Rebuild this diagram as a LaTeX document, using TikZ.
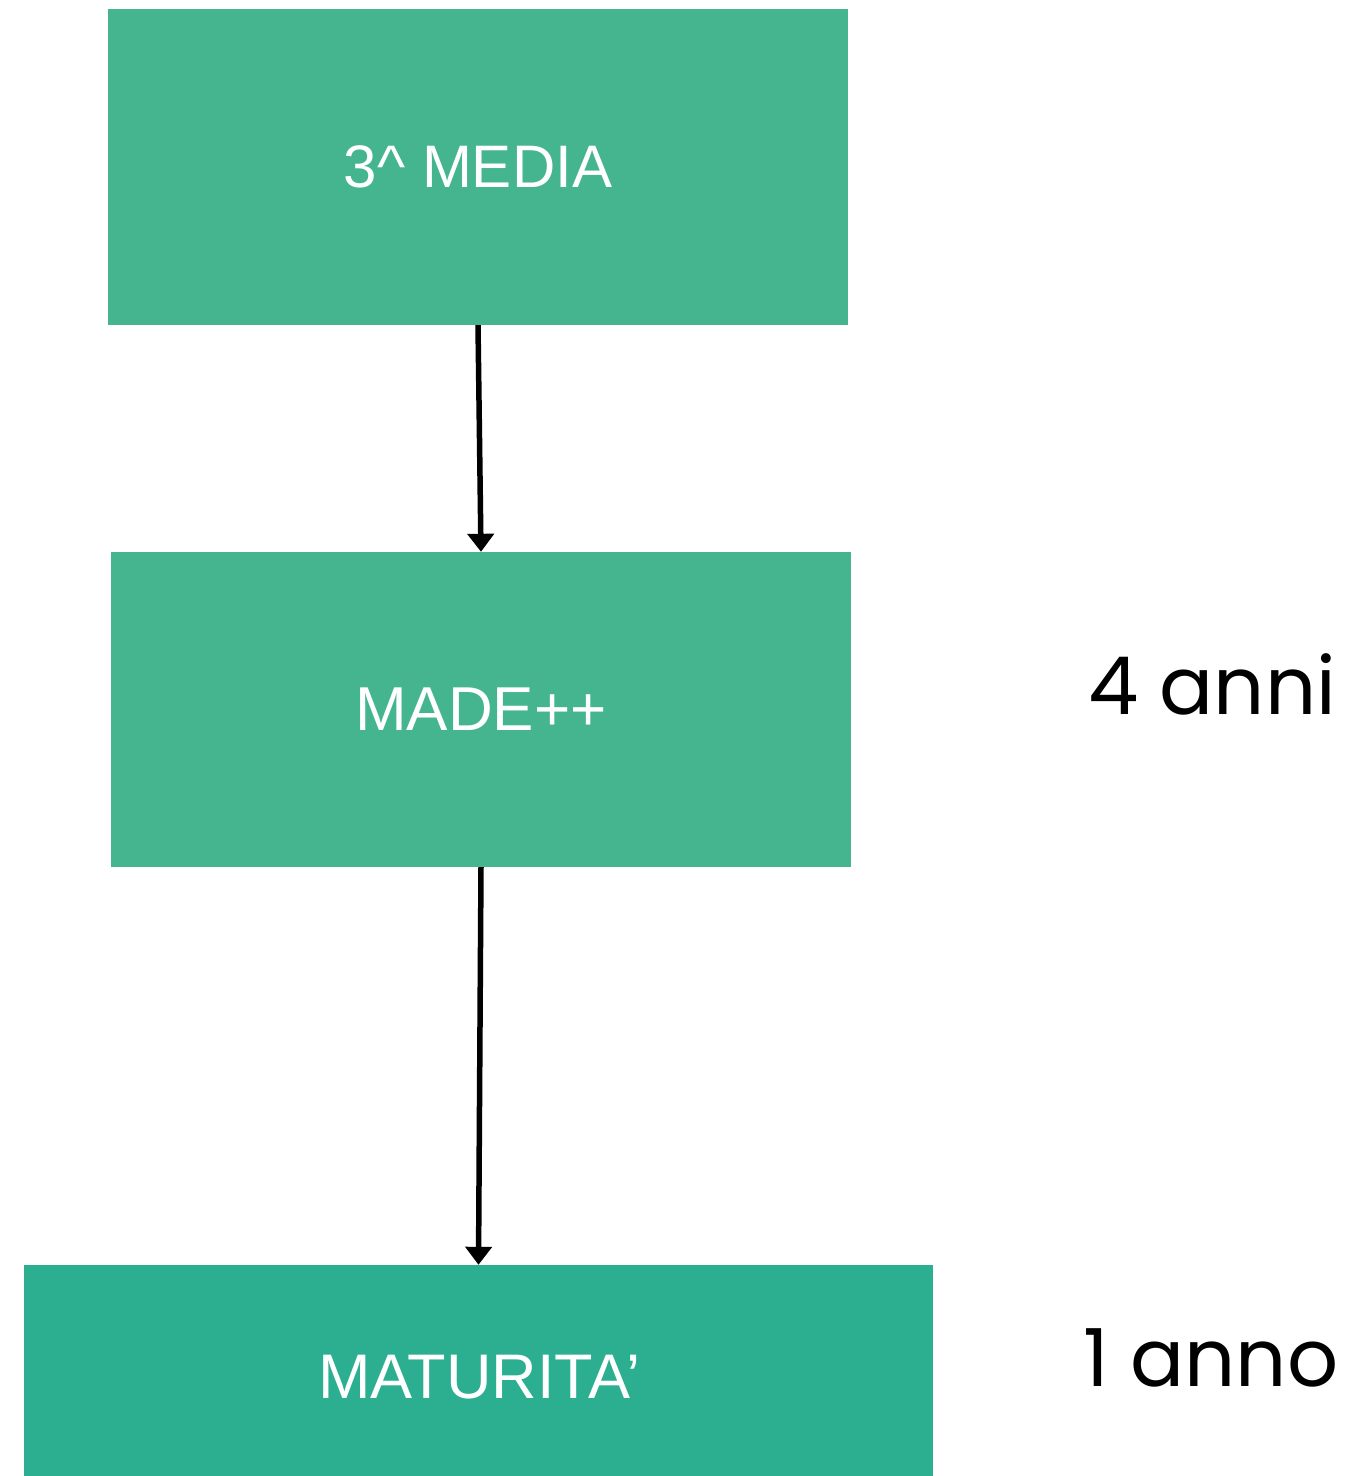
\documentclass[tikz,border=0pt]{standalone}
\usepackage{fontspec}
\setmainfont{Liberation Sans}
\newfontfamily\poppins{Poppins}
\usetikzlibrary{arrows.meta, positioning}

\definecolor{boxgreen}{HTML}{44B58E}
\definecolor{boxteal}{HTML}{2BAF90}

\tikzset{
	stagebox/.style={fill=boxgreen, text=white, inner sep=0pt, font=\fontsize{60}{66}\selectfont},
	yearlabel/.style={font=\poppins\fontsize{80}{88}\selectfont, text=black},
	flow/.style={line width=5.5pt, -{Triangle[length=18pt, width=26pt]}}
}

\begin{document}
\begin{tikzpicture}[x=1pt, y=-1pt]
		\useasboundingbox (0,0) rectangle (1356,1476);
		\fill[white] (0,0) rectangle (1356,1476);

		\node[stagebox, minimum width=740pt, minimum height=316pt] (media) at (478,167) {3\^{} MEDIA};
		\node[stagebox, minimum width=740pt, minimum height=315pt, font=\fontsize{62}{68}\selectfont] (made) at (481,709.5) {MADE++};
		\node[stagebox, fill=boxteal, minimum width=909pt, minimum height=211pt] (maturita) at (478.5,1370.5) {};
		\node[text=white, font=\fontsize{63}{69}\selectfont] (maturitatext) at (479,1377) {MATURITA’};

		\draw[flow] (media.south) -- (made.north);
		\draw[flow] (made.south) -- (maturita.north);

		% Durata
		\node[yearlabel] (quattro) at (1212,684) {4 anni};
		\node[yearlabel] (uno) at (1211,1358) {1 anno};
	\end{tikzpicture}
\end{document}
